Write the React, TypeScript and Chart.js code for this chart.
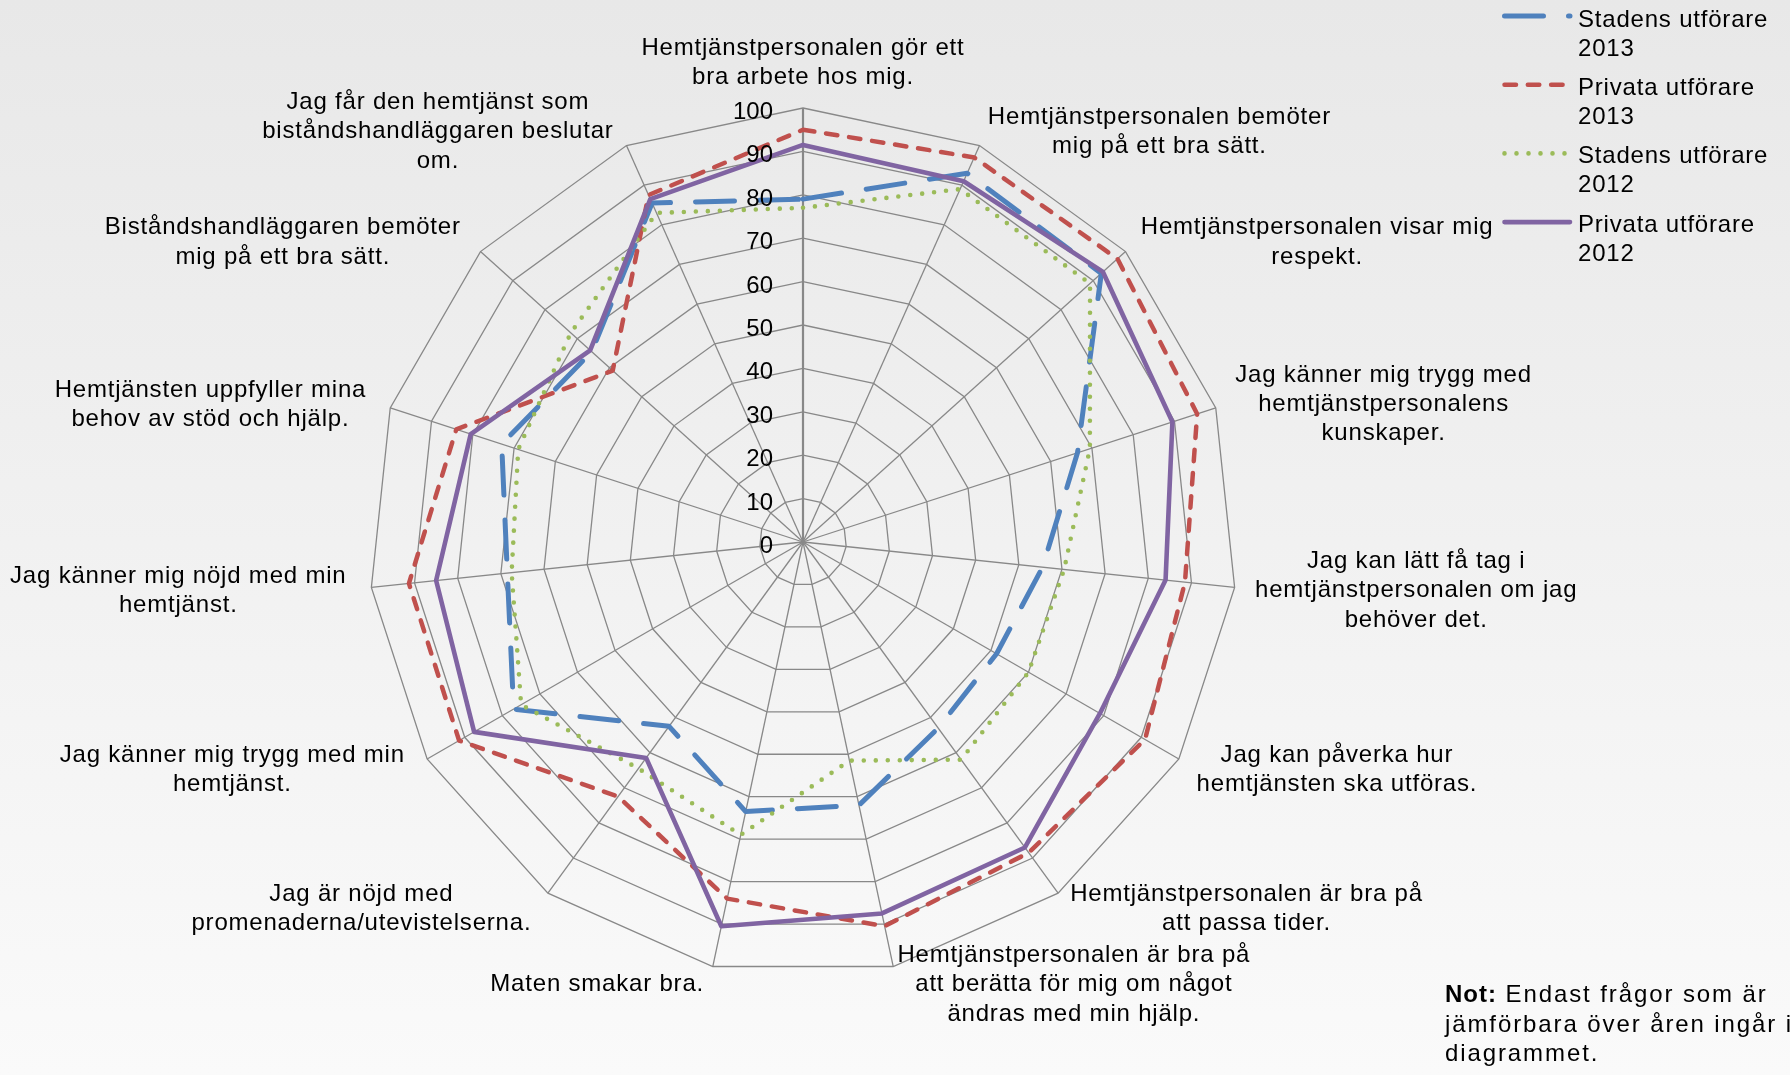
import React, { useEffect, useRef, useState } from 'react';
import { Chart, registerables } from 'chart.js';

Chart.register(...registerables);

// ---------- data ----------
const categories: string[][] = [
  ['Hemtjänstpersonalen gör ett', 'bra arbete hos mig.'],
  ['Hemtjänstpersonalen bemöter', 'mig på ett bra sätt.'],
  ['Hemtjänstpersonalen visar mig', 'respekt.'],
  ['Jag känner mig trygg med', 'hemtjänstpersonalens', 'kunskaper.'],
  ['Jag kan lätt få tag i', 'hemtjänstpersonalen om jag', 'behöver det.'],
  ['Jag kan påverka hur', 'hemtjänsten ska utföras.'],
  ['Hemtjänstpersonalen är bra på', 'att passa tider.'],
  ['Hemtjänstpersonalen är bra på', 'att berätta för mig om något', 'ändras med min hjälp.'],
  ['Maten smakar bra.'],
  ['Jag är nöjd med', 'promenaderna/utevistelserna.'],
  ['Jag känner mig trygg med min', 'hemtjänst.'],
  ['Jag känner mig nöjd med min', 'hemtjänst.'],
  ['Hemtjänsten uppfyller mina', 'behov av stöd och hjälp.'],
  ['Biståndshandläggaren bemöter', 'mig på ett bra sätt.'],
  ['Jag får den hemtjänst som', 'biståndshandläggaren beslutar', 'om.'],
];

const stadens2013 = [79, 93, 92.5, 66.5, 55.5, 51.5, 53, 62, 63.5, 52.5, 77, 68.5, 73, 65.5, 85.5];
const privata2013 = [95, 97, 97.5, 95.5, 88.5, 91, 88.5, 90.5, 84, 72.5, 91.5, 91.3, 84, 59, 87.5];
const stadens2012 = [77, 89, 89, 69.5, 60.5, 60, 62, 51.5, 69, 64.5, 75, 67.5, 69, 72, 83];
const privata2012 = [91.5, 91, 93, 89.5, 84, 79, 87, 87.5, 90.5, 61.5, 87.5, 85, 80.5, 66, 86.5];

const seriesNames = ['Stadens utförare 2013', 'Privata utförare 2013', 'Stadens utförare 2012', 'Privata utförare 2012'];
const tickLabels = ['0', '10', '20', '30', '40', '50', '60', '70', '80', '90', '100'];

// ---------- styles ----------
const W = 1790;
const H = 1075;
const FONT = '"Liberation Sans", Arial, Helvetica, sans-serif';
const COLORS = ['#4F81BD', '#C0504D', '#9BBB59', '#8064A2'];
const DASHES = [[39, 25], [11.5, 11.8], [0, 12], []];
const WIDTHS = [5, 4.5, 4.6, 4.6];

type LabelPos = { x: number; y: number; side: 'top' | 'left' | 'right' };
type TickPos = { x: number; y: number; text: string };

const legendSamples = {
  id: 'legendSamples',
  afterDraw(chart: any) {
    const ctx: CanvasRenderingContext2D = chart.ctx;
    ctx.save();
    chart.data.datasets.forEach((ds: any, i: number) => {
      const y = 16 + i * 68.7;
      ctx.beginPath();
      ctx.strokeStyle = ds.borderColor;
      ctx.lineWidth = ds.borderWidth;
      ctx.lineCap = 'round';
      ctx.setLineDash(ds.borderDash || []);
      ctx.moveTo(1504.5, y);
      ctx.lineTo(1570, y);
      ctx.stroke();
    });
    ctx.restore();
  },
};

export default function App() {
  const ref = useRef<HTMLCanvasElement>(null);
  const [labels, setLabels] = useState<LabelPos[]>([]);
  const [ticks, setTicks] = useState<TickPos[]>([]);

  useEffect(() => {
    if (!ref.current) return;
    const all = [stadens2013, privata2013, stadens2012, privata2012];
    const chart = new Chart(ref.current, {
      type: 'radar',
      data: {
        labels: categories,
        datasets: all.map((d, i) => ({
          label: seriesNames[i],
          data: d,
          borderColor: COLORS[i],
          backgroundColor: 'transparent',
          borderWidth: WIDTHS[i],
          borderDash: DASHES[i],
          borderCapStyle: 'round',
          borderJoinStyle: 'round',
          fill: false,
          pointRadius: 0,
          pointHoverRadius: 0,
          tension: 0,
          order: 3 - i,
        })),
      },
      options: {
        responsive: false,
        animation: false,
        events: [],
        layout: { padding: { left: 369, right: 553, top: 108, bottom: 99 } },
        plugins: { legend: { display: false }, tooltip: { enabled: false } },
        scales: {
          r: {
            min: 0,
            max: 100,
            ticks: { display: false, stepSize: 10 },
            pointLabels: { display: false },
            grid: { color: '#888888', lineWidth: 1.3 },
            angleLines: {
              color: '#888888',
              lineWidth: (c: any) => (c.index === 0 ? 2.2 : 1.3),
            },
          },
        },
      } as any,
      plugins: [legendSamples],
    });

    const s: any = chart.scales.r;
    const R = s.drawingArea;
    const lp: LabelPos[] = categories.map((_, i) => {
      const p = s.getPointPosition(i, R);
      const a = s.getIndexAngle(i);
      const sn = Math.sin(a);
      const cs = Math.cos(a);
      const ay = p.y - 17 * cs;
      if (Math.abs(sn) < 0.01) return { x: p.x, y: ay, side: 'top' };
      if (sn > 0) return { x: p.x + 20.5 * sn, y: ay, side: 'right' };
      return { x: p.x + 20.5 * sn - 4.5, y: ay, side: 'left' };
    });
    setLabels(lp);
    const tp: TickPos[] = (s.ticks as any[]).map((t, k) => ({
      x: s.xCenter - 30,
      y: s.yCenter - s.getDistanceFromCenterForValue(t.value) + 3,
      text: tickLabels[k] ?? String(t.value),
    }));
    setTicks(tp);

    return () => chart.destroy();
  }, []);

  const textBase: React.CSSProperties = {
    position: 'absolute',
    fontFamily: FONT,
    fontSize: 24,
    lineHeight: '29.3px',
    color: '#000',
    whiteSpace: 'nowrap',
    letterSpacing: '0.8px',
  };

  return (
    <div
      style={{
        position: 'absolute',
        left: 0,
        top: 0,
        width: W,
        height: H,
        overflow: 'hidden',
        background: 'linear-gradient(to bottom, #e8e8e8 0%, #f0f0f0 45%, #fafafa 100%)',
      }}
    >
      <canvas ref={ref} width={W} height={H} style={{ position: 'absolute', left: 0, top: 0 }} />
      {labels.map((l, i) => {
        const st: React.CSSProperties = { ...textBase, textAlign: 'center', top: l.y };
        if (l.side === 'top') {
          st.left = l.x;
          st.transform = 'translate(-50%, -100%)';
        } else if (l.side === 'right') {
          st.left = l.x;
          st.transform = 'translateY(-50%)';
        } else {
          st.right = W - l.x;
          st.transform = 'translateY(-50%)';
        }
        return (
          <div key={'l' + i} style={st}>
            {categories[i].map((line, j) => (
              <div key={j}>{line}</div>
            ))}
          </div>
        );
      })}
      {ticks.map((t, i) => (
        <div
          key={'t' + i}
          style={{
            ...textBase,
            letterSpacing: '0px',
            right: W - t.x,
            top: t.y,
            transform: 'translateY(-50%)',
          }}
        >
          {t.text}
        </div>
      ))}
      {seriesNames.map((n, i) => (
        <div
          key={'s' + i}
          style={{
            ...textBase,
            whiteSpace: 'normal',
            left: 1578,
            top: 3.5 + i * 68.4,
            width: 212,
            lineHeight: '29px',
          }}
        >
          {n}
        </div>
      ))}
      <div
        style={{
          ...textBase,
          whiteSpace: 'nowrap',
          left: 1445,
          top: 979,
          letterSpacing: '1.9px',
          lineHeight: '29.5px',
        }}
      >
        <b style={{ letterSpacing: '1px' }}>Not:</b> Endast frågor som är
        <br />
        jämförbara över åren ingår i
        <br />
        diagrammet.
      </div>
    </div>
  );
}
